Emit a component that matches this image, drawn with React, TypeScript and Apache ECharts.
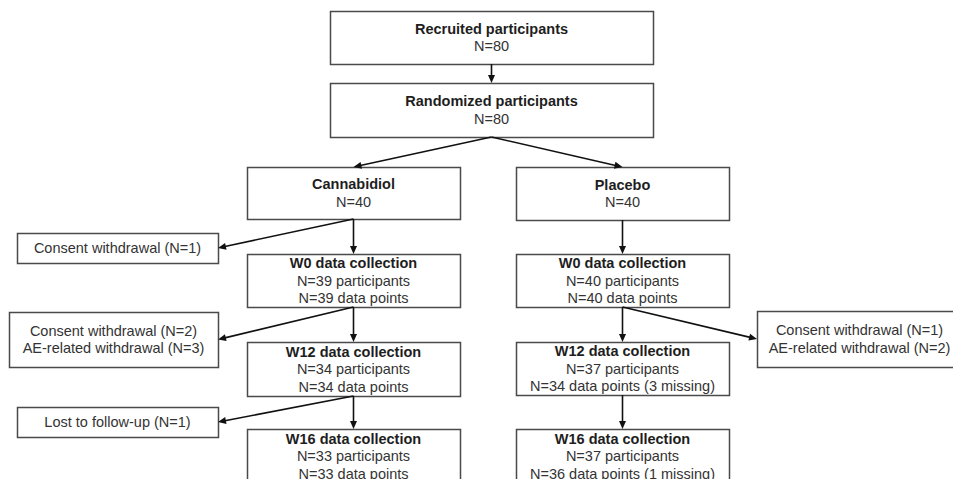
import React, { useEffect, useRef } from "react";
import * as echarts from "echarts";

// ---- content ----
const nodeIds = ["recruited", "randomized", "cbd", "pbo", "cw1", "w0c", "w0p", "cw2", "cw3", "w12c", "w12p", "lost", "w16c", "w16p"];
const nodeTitles = [
  "Recruited participants", "Randomized participants", "Cannabidiol", "Placebo", "",
  "W0 data collection", "W0 data collection", "", "", "W12 data collection", "W12 data collection", "",
  "W16 data collection", "W16 data collection",
];
const nodeLines: string[][] = [
  ["N=80"], ["N=80"], ["N=40"], ["N=40"], ["Consent withdrawal (N=1)"],
  ["N=39 participants", "N=39 data points"], ["N=40 participants", "N=40 data points"],
  ["Consent withdrawal (N=2)", "AE-related withdrawal (N=3)"],
  ["Consent withdrawal (N=1)", "AE-related withdrawal (N=2)"],
  ["N=34 participants", "N=34 data points"], ["N=37 participants", "N=34 data points (3 missing)"],
  ["Lost to follow-up (N=1)"],
  ["N=33 participants", "N=33 data points"], ["N=37 participants", "N=36 data points (1 missing)"],
];
// edges: [from, to, fromSide, toSide]
const edgeList: [string, string, string, string][] = [
  ["recruited", "randomized", "bottom", "top"],
  ["randomized", "cbd", "bottom", "top"],
  ["randomized", "pbo", "bottom", "top"],
  ["cbd", "cw1", "bottom", "right"],
  ["cbd", "w0c", "bottom", "top"],
  ["pbo", "w0p", "bottom", "top"],
  ["w0c", "cw2", "bottom", "right"],
  ["w0c", "w12c", "bottom", "top"],
  ["w0p", "cw3", "bottom", "left"],
  ["w0p", "w12p", "bottom", "top"],
  ["w12c", "lost", "bottom", "right"],
  ["w12c", "w16c", "bottom", "top"],
  ["w12p", "w16p", "bottom", "top"],
];

// ---- layout (x0, y0, x1, y1) ----
const layout: Record<string, [number, number, number, number]> = {
  recruited: [330, 11, 653, 64],
  randomized: [330, 83, 653, 137],
  cbd: [247, 167, 460, 219],
  pbo: [516, 167, 729, 220],
  cw1: [17, 233, 218, 263],
  w0c: [247, 254, 460, 307],
  w0p: [516, 254, 729, 307],
  cw2: [9, 312, 218, 367],
  cw3: [757, 311, 962, 367],
  w12c: [247, 342, 460, 396],
  w12p: [516, 342, 729, 395],
  lost: [17, 407, 218, 437],
  w16c: [247, 429, 460, 483],
  w16p: [516, 429, 729, 483],
};

const FONT = "Liberation Sans, Arial, sans-serif";
const FS = 14.5;
const LH = 17.5;

function anchor(id: string, side: string): [number, number] {
  const [x0, y0, x1, y1] = layout[id];
  const cx = (x0 + x1) / 2;
  const cy = (y0 + y1) / 2;
  if (side === "top") return [cx, y0];
  if (side === "bottom") return [cx, y1];
  if (side === "left") return [x0, cy];
  return [x1, cy];
}

function buildGraphics() {
  const els: any[] = [];
  nodeIds.forEach((id, i) => {
    const [x0, y0, x1, y1] = layout[id];
    els.push({
      type: "rect",
      shape: { x: x0 + 0.5, y: y0 + 0.5, width: x1 - x0, height: y1 - y0 },
      style: { fill: "#fff", stroke: "#4a4a4a", lineWidth: 1.5 },
      z: 1,
    });
    const lines: { t: string; bold: boolean }[] = [];
    if (nodeTitles[i]) lines.push({ t: nodeTitles[i], bold: true });
    nodeLines[i].forEach((t) => lines.push({ t, bold: false }));
    const cx = (x0 + x1) / 2;
    const cy = (y0 + y1) / 2;
    const startY = cy - ((lines.length - 1) * LH) / 2;
    lines.forEach((ln, k) => {
      els.push({
        type: "text",
        x: cx,
        y: startY + k * LH,
        z: 3,
        style: {
          text: ln.t,
          fontFamily: FONT,
          fontSize: FS,
          fontWeight: ln.bold ? "bold" : "normal",
          fill: ln.bold ? "#1e1e1e" : "#333333",
          align: "center",
          verticalAlign: "middle",
        },
      });
    });
  });
  edgeList.forEach(([a, b, sa, sb]) => {
    const p0 = anchor(a, sa);
    const p1 = anchor(b, sb);
    const dx = p1[0] - p0[0];
    const dy = p1[1] - p0[1];
    const len = Math.hypot(dx, dy);
    const ux = dx / len;
    const uy = dy / len;
    const L = 8;
    const W = 3.5;
    const bx = p1[0] - ux * L;
    const by = p1[1] - uy * L;
    els.push({
      type: "line",
      shape: { x1: p0[0], y1: p0[1], x2: bx + ux * 1, y2: by + uy * 1 },
      style: { stroke: "#111", lineWidth: 1.6 },
      z: 2,
    });
    els.push({
      type: "polygon",
      shape: {
        points: [
          [p1[0], p1[1]],
          [bx - uy * W, by + ux * W],
          [bx + uy * W, by - ux * W],
        ],
      },
      style: { fill: "#111" },
      z: 4,
    });
  });
  return els;
}

export default function App() {
  const ref = useRef<HTMLDivElement>(null);
  useEffect(() => {
    if (!ref.current) return;
    const chart = echarts.init(ref.current, undefined, { renderer: "svg" });
    chart.setOption({
      animation: false,
      backgroundColor: "#ffffff",
      graphic: { elements: buildGraphics() },
    });
    return () => chart.dispose();
  }, []);
  return (
    <div
      ref={ref}
      style={{ position: "fixed", left: 0, top: 0, width: 953, height: 479, background: "#fff" }}
    />
  );
}
